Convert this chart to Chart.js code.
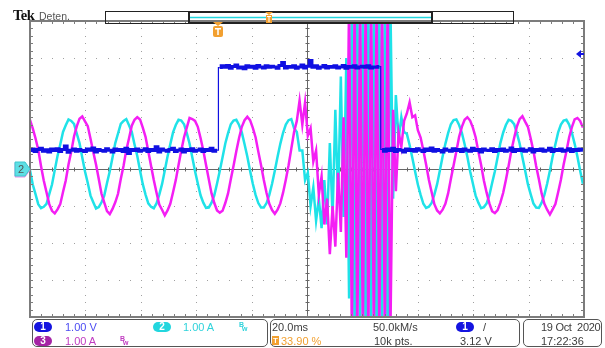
<!DOCTYPE html>
<html>
<head>
<meta charset="utf-8">
<script src="https://cdn.jsdelivr.net/npm/chart.js@4.4.0/dist/chart.umd.min.js"></script>
<style>
  body { margin: 0; background: #fff; }
  #wrap { position: relative; width: 605px; height: 348px; overflow: hidden; font-family: "Liberation Sans", Arial, sans-serif; color: #3c3c3c; }
  #scope { position: absolute; left: 0; top: 0; }
  .t { position: absolute; font-size: 11px; line-height: 11px; white-space: nowrap; }
  .box { position: absolute; top: 319px; height: 28px; border: 1px solid #555; border-radius: 5px; box-sizing: border-box; }
  .pill { position: absolute; width: 18px; height: 10px; border-radius: 5px; color: #fff; font-size: 10px; line-height: 10px; text-align: center; font-weight: bold; }
  .bw { position: absolute; font-size: 7px; line-height: 7px; font-weight: bold; }
</style>
</head>
<body>
<div id="wrap">
  <canvas id="scope" width="605" height="348"></canvas>

  <div class="t" style="left:13px;top:8px;font-family:'Liberation Serif',serif;font-weight:bold;font-size:14.5px;line-height:14px;color:#111;letter-spacing:-0.5px">Tek</div>
  <div class="t" style="left:39px;top:10.5px;color:#555;font-size:10.5px">Deten.</div>

  <div class="t" style="left:18px;top:163.5px;color:#555">2</div>

  <div class="box" style="left:32px;width:236px"></div>
  <div class="box" style="left:270px;width:250px"></div>
  <div class="box" style="left:523px;width:79px"></div>

  <div class="pill" style="left:34px;top:322px;background:#1414e0">1</div>
  <div class="t" style="left:65px;top:321.5px;color:#4b4bf2">1.00 V</div>
  <div class="pill" style="left:153px;top:322px;background:#22d6de">2</div>
  <div class="t" style="left:183px;top:321.5px;color:#2fd3db">1.00 A</div>
  <div class="bw" style="left:239px;top:321px;color:#2fd3db">B</div>
  <div class="bw" style="left:242px;top:325px;color:#2fd3db">w</div>

  <div class="pill" style="left:34px;top:336px;background:#a524a5">3</div>
  <div class="t" style="left:65px;top:335.5px;color:#c03cc0">1.00 A</div>
  <div class="bw" style="left:120px;top:335px;color:#c03cc0">B</div>
  <div class="bw" style="left:123px;top:339px;color:#c03cc0">w</div>

  <div class="t" style="left:272px;top:321.5px">20.0ms</div>
  <div class="t" style="left:272px;top:336px;width:7px;height:9px;background:#f2a030;color:#fff;font-size:8px;line-height:9px;text-align:center;font-weight:bold">T</div>
  <div class="t" style="left:281px;top:335.5px;color:#f2a030">33.90 %</div>
  <div class="t" style="left:373px;top:321.5px">50.0kM/s</div>
  <div class="t" style="left:374px;top:335.5px">10k pts.</div>
  <div class="pill" style="left:456px;top:322px;background:#1414e0">1</div>
  <div class="t" style="left:483px;top:321.5px">/</div>
  <div class="t" style="left:460px;top:335.5px">3.12 V</div>

  <div class="t" style="left:541px;top:321.5px;letter-spacing:-0.3px">19 Oct&nbsp; 2020</div>
  <div class="t" style="left:541px;top:335.5px">17:22:36</div>
</div>

<script>
// one sample per index, 20 samples = one 50 Hz period, 10 divisions = 201.4 samples
// values in divisions (1 V/div for ch1, 1 A/div for ch2 and ch3)

// ch1 (blue) - voltage step
const ch1 = [
  0.50, 0.54, 0.47, 0.53, 0.56, 0.48, 0.52, 0.46, 0.54, 0.50, 0.55, 0.47, 0.53, 0.62, 0.45, 0.51, 0.54, 0.48, 0.53, 0.50,
  0.47, 0.54, 0.51, 0.57, 0.46, 0.53, 0.50, 0.48, 0.55, 0.51, 0.46, 0.54, 0.50, 0.53, 0.47, 0.56, 0.42, 0.53, 0.50, 0.54,
  0.48, 0.51, 0.55, 0.47, 0.53, 0.50, 0.60, 0.46, 0.54, 0.51, 0.48, 0.53, 0.56, 0.47, 0.51, 0.54, 0.46, 0.53, 0.50, 0.55,
  0.48, 0.51, 0.54, 0.47, 0.53, 0.50, 0.56, 0.48, 0.51,
  2.74, 2.79, 2.75, 2.80, 2.72, 2.77, 2.81, 2.73, 2.76, 2.71, 2.79, 2.75, 2.78, 2.72, 2.80, 2.76, 2.73, 2.79, 2.75, 2.78,
  2.76, 2.72, 2.80, 2.88, 2.73, 2.77, 2.75, 2.79, 2.72, 2.76, 2.81, 2.73, 2.78, 2.93, 2.75, 2.79, 2.72, 2.76, 2.80, 2.73,
  2.77, 2.75, 2.79, 2.73, 2.76, 2.80, 2.72, 2.77, 2.75, 2.79, 2.73, 2.76, 2.78, 2.75, 2.79, 2.73, 2.76, 2.75, 2.77,
  0.53, 0.48, 0.54, 0.50, 0.56, 0.47, 0.53, 0.51, 0.46, 0.54, 0.50, 0.53, 0.48, 0.55, 0.51, 0.47, 0.54, 0.50, 0.57, 0.48,
  0.53, 0.50, 0.46, 0.54, 0.51, 0.48, 0.55, 0.50, 0.53, 0.47, 0.54, 0.51, 0.48, 0.56, 0.50, 0.53, 0.46, 0.54, 0.51, 0.50,
  0.55, 0.47, 0.53, 0.50, 0.54, 0.48, 0.51, 0.57, 0.47, 0.53, 0.50, 0.54, 0.48, 0.51, 0.55, 0.46, 0.53, 0.50, 0.54, 0.48,
  0.51, 0.56, 0.47, 0.53, 0.50, 0.54, 0.48, 0.51, 0.55, 0.47, 0.53, 0.50, 0.54, 0.51
];

// ch2 (cyan) - current
const ch2 = [
  -0.03, -0.42, -0.68, -0.95, -1.06, -1.02, -0.94, -0.68, -0.42, -0.03, 0.35, 0.66, 1.00, 1.18, 1.34, 1.30, 1.22, 0.96, 0.70, 0.31,
  -0.07, -0.38, -0.72, -0.90, -1.07, -1.03, -0.90, -0.72, -0.38, -0.06, 0.31, 0.70, 0.96, 1.22, 1.30, 1.35, 1.18, 1.00, 0.66, 0.35,
  -0.04, -0.41, -0.69, -0.93, -1.02, -1.06, -0.93, -0.69, -0.41, -0.04, 0.34, 0.67, 0.99, 1.19, 1.33, 1.31, 1.21, 0.97, 0.69, 0.32,
  -0.06, -0.39, -0.71, -0.91, -1.05, -1.04, -0.91, -0.71, -0.39, -0.05, 0.32, 0.69, 0.97, 1.21, 1.31, 1.33, 1.19, 0.99, 0.67, 0.34,
  -0.05, -0.40, -0.70, -0.92, -1.04, -1.04, -0.92, -0.70, -0.40, -0.05, 0.33, 0.68, 0.98, 1.20, 1.32, 1.35, 1.10, 1.00, 0.50, 0.50,
  -0.30, -0.10, -1.00, -0.50, -1.40, -0.80, -1.60, -0.30, -1.50, 0.70, -1.30, 1.60, -0.90, 2.50, -1.30, 3.00, -3.50, 4.60, -4.60, 4.60,
  -4.60, 4.60, -4.60, 4.60, -4.60, 4.60, -4.60, 4.60, -4.60, 4.60, -4.60, 4.60, -0.80, 2.00, 0.80, 1.40, 1.00, 0.95, 0.65, 0.30,
  -0.07, -0.42, -0.70, -0.94, -1.05, -1.02, -0.92, -0.69, -0.41, -0.04, 0.34, 0.68, 0.97, 1.21, 1.32, 1.34, 1.19, 0.98, 0.67, 0.33,
  -0.06, -0.39, -0.72, -0.91, -1.06, -1.03, -0.93, -0.71, -0.38, -0.06, 0.32, 0.70, 0.98, 1.19, 1.33, 1.30, 1.21, 0.97, 0.69, 0.32,
  -0.04, -0.41, -0.68, -0.93, -1.04, -1.05, -0.91, -0.70, -0.40, -0.05, 0.34, 0.67, 0.99, 1.20, 1.31, 1.33, 1.20, 0.98, 0.68, 0.34,
  -0.05, -0.40
];

// ch3 (magenta) - current
const ch3 = [
  1.33, 1.10, 0.83, 0.52, 0.08, -0.31, -0.63, -0.95, -1.13, -1.20, -1.09, -0.95, -0.62, -0.31, 0.12, 0.47, 0.88, 1.15, 1.36, 1.42,
  1.29, 1.16, 0.82, 0.46, 0.12, -0.27, -0.67, -0.91, -1.14, -1.22, -1.08, -0.90, -0.67, -0.27, 0.08, 0.51, 0.83, 1.17, 1.33, 1.40,
  1.34, 1.12, 0.87, 0.48, 0.09, -0.30, -0.64, -0.96, -1.10, -1.25, -1.12, -0.94, -0.63, -0.30, 0.11, 0.50, 0.86, 1.12, 1.38, 1.35,
  1.30, 1.14, 0.84, 0.50, 0.11, -0.28, -0.66, -0.92, -1.12, -1.18, -1.13, -0.92, -0.66, -0.28, 0.09, 0.48, 0.84, 1.14, 1.32, 1.41,
  1.32, 1.11, 0.86, 0.47, 0.10, -0.30, -0.65, -0.94, -1.11, -1.21, -1.10, -0.93, -0.64, -0.29, 0.10, 0.55, 1.00, 1.30, 1.85, 1.20,
  1.80, 0.90, 1.10, 0.20, 0.50, -0.70, -0.20, -1.50, -0.80, -2.30, -1.00, -2.10, -0.10, -1.70, 1.40, -2.40, 4.60, -4.60, 4.60, -4.60,
  4.60, -4.60, 4.60, -4.60, 4.60, -4.60, 4.60, -4.60, 4.60, -4.60, 4.60, -4.60, 1.60, -0.60, 1.00, 0.60, 1.30, 1.50, 1.80, 1.40,
  1.45, 1.05, 0.85, 0.50, 0.12, -0.29, -0.62, -0.95, -1.12, -1.20, -1.10, -0.94, -0.66, -0.27, 0.10, 0.48, 0.87, 1.14, 1.33, 1.40,
  1.31, 1.12, 0.86, 0.47, 0.11, -0.31, -0.64, -0.93, -1.14, -1.19, -1.11, -0.91, -0.65, -0.30, 0.09, 0.50, 0.84, 1.15, 1.35, 1.43,
  1.28, 1.14, 0.83, 0.49, 0.08, -0.28, -0.66, -0.94, -1.10, -1.23, -1.09, -0.95, -0.63, -0.29, 0.12, 0.47, 0.86, 1.13, 1.34, 1.38,
  1.30, 1.12
];

const samplesPerScreen = 201.4;
const triggerSample = 68.4;   // T marker
const triggerLevel = 3.12;    // ch1 trigger level, div

const pts = arr => arr.map((v, i) => ({ x: i, y: v }));

const scopeFrame = {
  id: 'scopeFrame',
  beforeDatasetsDraw(chart) {
    const { ctx, chartArea: a } = chart;
    const dx = (a.right - a.left) / 10, dy = (a.bottom - a.top) / 8;
    ctx.save();
    // dotted division lines
    ctx.fillStyle = '#a0a0a0';
    for (let i = 1; i < 10; i++) {
      if (i === 5) continue;
      const px = Math.round(a.left + i * dx);
      for (let j = 1; j < 40; j++) ctx.fillRect(px, Math.round(a.top + j * dy / 5), 1, 1);
    }
    for (let j = 1; j < 8; j++) {
      if (j === 4) continue;
      const py = Math.round(a.top + j * dy);
      for (let i = 1; i < 50; i++) ctx.fillRect(Math.round(a.left + i * dx / 5), py, 1, 1);
    }
    // centre cross
    const cx = Math.round(a.left + 5 * dx) + 0.5, cy = Math.round(a.top + 4 * dy) + 0.5;
    ctx.strokeStyle = '#666';
    ctx.lineWidth = 1;
    ctx.beginPath();
    ctx.moveTo(a.left, cy); ctx.lineTo(a.right, cy);
    ctx.moveTo(cx, a.top); ctx.lineTo(cx, a.bottom);
    for (let i = 1; i < 50; i++) {
      const px = Math.round(a.left + i * dx / 5) + 0.5;
      ctx.moveTo(px, cy - 2); ctx.lineTo(px, cy + 2);
    }
    for (let j = 1; j < 40; j++) {
      const py = Math.round(a.top + j * dy / 5) + 0.5;
      ctx.moveTo(cx - 2, py); ctx.lineTo(cx + 2, py);
    }
    ctx.stroke();
    ctx.restore();
  },
  afterDatasetsDraw(chart) {
    const { ctx, chartArea: a, scales } = chart;
    const dx = (a.right - a.left) / 10, dy = (a.bottom - a.top) / 8;
    ctx.save();
    // frame with ticks
    ctx.strokeStyle = '#7c7c7c';
    ctx.lineWidth = 2;
    ctx.strokeRect(a.left, a.top, a.right - a.left, a.bottom - a.top);
    ctx.lineWidth = 1;
    ctx.beginPath();
    for (let i = 1; i < 50; i++) {
      const px = Math.round(a.left + i * dx / 5) + 0.5;
      ctx.moveTo(px, a.top); ctx.lineTo(px, a.top + 3);
      ctx.moveTo(px, a.bottom); ctx.lineTo(px, a.bottom - 3);
    }
    for (let j = 1; j < 40; j++) {
      const py = Math.round(a.top + j * dy / 5) + 0.5;
      ctx.moveTo(a.left, py); ctx.lineTo(a.left + 3, py);
      ctx.moveTo(a.right, py); ctx.lineTo(a.right - 3, py);
    }
    ctx.stroke();

    // record window bar
    ctx.strokeStyle = '#222';
    ctx.lineWidth = 1;
    ctx.strokeRect(105.5, 11.5, 408, 12);
    ctx.lineWidth = 2;
    ctx.strokeRect(189, 12, 243, 11);
    ctx.strokeStyle = '#22d6de';
    ctx.lineWidth = 1.5;
    ctx.beginPath(); ctx.moveTo(190, 17.5); ctx.lineTo(431, 17.5); ctx.stroke();
    const orange = '#f2a030';
    ctx.fillStyle = orange;
    ctx.beginPath(); ctx.moveTo(265, 12); ctx.lineTo(273, 12); ctx.lineTo(269, 15); ctx.fill();
    ctx.fillRect(266, 15, 6, 8);
    ctx.fillStyle = '#fff';
    ctx.fillRect(267, 16, 4, 1); ctx.fillRect(268.5, 16, 1, 6);

    // trigger position marker
    const tx = Math.round(scales.x.getPixelForValue(triggerSample));
    ctx.fillStyle = orange;
    ctx.beginPath(); ctx.moveTo(tx - 5, 22); ctx.lineTo(tx + 5, 22); ctx.lineTo(tx, 26); ctx.fill();
    ctx.beginPath(); ctx.roundRect(tx - 5, 26, 10, 11, 2); ctx.fill();
    ctx.fillStyle = '#fff';
    ctx.fillRect(tx - 3, 28, 6, 1.5); ctx.fillRect(tx - 0.75, 28, 1.5, 7);

    // trigger level arrow (ch1)
    const ty = Math.round(scales.y.getPixelForValue(triggerLevel));
    ctx.fillStyle = '#1414e0';
    ctx.beginPath(); ctx.moveTo(576, ty); ctx.lineTo(581, ty - 4); ctx.lineTo(581, ty + 4); ctx.fill();
    ctx.fillRect(581, ty - 1, 3, 2);

    // ch2 / ch3 ground markers
    const gy = Math.round(scales.y.getPixelForValue(0));
    const marker = (off, fill, stroke) => {
      ctx.beginPath();
      ctx.moveTo(15, gy - 7 + off); ctx.lineTo(25, gy - 7 + off); ctx.lineTo(30, gy + off);
      ctx.lineTo(25, gy + 7 + off); ctx.lineTo(15, gy + 7 + off); ctx.closePath();
      ctx.fillStyle = fill; ctx.fill();
      ctx.strokeStyle = stroke; ctx.lineWidth = 1; ctx.stroke();
    };
    marker(1, '#f6b8f6', '#e890e8');
    marker(0, '#5fdfe4', '#3cc8ce');
    ctx.restore();
  }
};

new Chart(document.getElementById('scope'), {
  type: 'line',
  data: {
    datasets: [
      {
        label: 'CH1', data: pts(ch1), borderColor: '#1010e2', borderWidth: 3, stepped: 'middle', order: 0,
        // the step edges are thin on the scope
        segment: { borderWidth: c => Math.abs(c.p1.parsed.y - c.p0.parsed.y) > 1 ? 1.2 : undefined }
      },
      { label: 'CH3', data: pts(ch3), borderColor: '#f41ef4', borderWidth: 2.5, order: 1 },
      { label: 'CH2', data: pts(ch2), borderColor: '#1fe2e8', borderWidth: 2.5, order: 2 }
    ]
  },
  options: {
    responsive: false,
    animation: false,
    events: [],
    layout: { padding: { left: 30, right: 21, top: 21, bottom: 31 } },
    elements: { point: { radius: 0 }, line: { tension: 0 } },
    plugins: { legend: { display: false }, tooltip: { enabled: false } },
    scales: {
      x: { type: 'linear', min: 0, max: samplesPerScreen, display: false },
      y: { type: 'linear', min: -4, max: 4, display: false }
    }
  },
  plugins: [scopeFrame]
});
</script>
</body>
</html>
